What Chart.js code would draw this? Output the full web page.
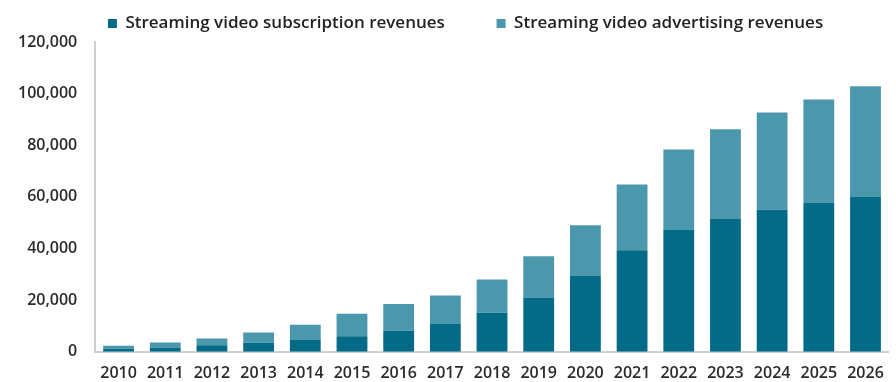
<!DOCTYPE html>
<html>
<head>
<meta charset="utf-8">
<script src="https://cdn.jsdelivr.net/npm/chart.js@4/dist/chart.umd.min.js"></script>
<style>
  html, body { margin: 0; padding: 0; background: #fff; }
  #wrap { width: 896px; height: 382px; position: relative; }
</style>
</head>
<body>
<div id="wrap"><canvas id="c"></canvas></div>
<script>
// years on the x axis
const years = ['2010','2011','2012','2013','2014','2015','2016','2017','2018',
  '2019','2020','2021','2022','2023','2024','2025','2026'];
// subscription revenues (bottom, dark)
const subscription = [1200,1700,2500,3500,4800,6000,8200,10800,15100,
  21000,29600,39300,47400,51400,55000,57800,60200];
// advertising revenues (stacked on top, light)
const advertising = [1100,1900,2700,4000,5700,8700,10300,11000,12900,
  16000,19400,25500,31000,34800,37700,39900,42700];
const yTicks = [0,20000,40000,60000,80000,100000,120000];

const FONT = '"Open Sans", "DejaVu Sans", sans-serif';

// spaces after the labels: gap between entries and shift of the whole legend
const baseLabels = Chart.defaults.plugins.legend.labels.generateLabels;

new Chart(document.getElementById('c').getContext('2d'), {
  type: 'bar',
  data: {
    labels: years,
    datasets: [
      {
        label: 'Streaming video subscription revenues',
        data: subscription,
        backgroundColor: '#036b87',
        borderWidth: 0,
        barPercentage: 0.66,
        categoryPercentage: 1
      },
      {
        label: 'Streaming video advertising revenues',
        data: advertising,
        backgroundColor: '#4b97ab',
        borderWidth: 0,
        barPercentage: 0.66,
        categoryPercentage: 1
      }
    ]
  },
  options: {
    responsive: true,
    maintainAspectRatio: false,
    animation: false,
    layout: { padding: { left: 0, right: 0, top: 3, bottom: -13 } },
    plugins: {
      tooltip: { enabled: false },
      legend: {
        position: 'top',
        fullSize: false,
        labels: {
          color: '#222',
          font: { family: FONT, size: 17, weight: '600' },
          boxWidth: 9,
          boxHeight: 9,
          padding: 12,
          generateLabels: chart => {
            const items = baseLabels(chart);
            items[0].text += '         ';
            items[1].text += '            ';
            return items;
          }
        }
      }
    },
    scales: {
      x: {
        stacked: true,
        grid: { display: false, drawTicks: false },
        border: { display: true, color: '#d0d0d0', width: 2 },
        ticks: {
          color: '#2b2b2b',
          font: { family: FONT, size: 16, weight: '600' },
          maxRotation: 0,
          autoSkip: false,
          padding: 12
        }
      },
      y: {
        stacked: true,
        min: 0,
        max: 120000,
        afterBuildTicks: axis => { axis.ticks = yTicks.map(v => ({ value: v })); },
        grid: { display: false, drawTicks: false },
        border: { display: true, color: '#d0d0d0', width: 2 },
        ticks: {
          color: '#2b2b2b',
          font: { family: FONT, size: 16, weight: '600' },
          padding: 18,
          callback: v => v.toLocaleString('en-US')
        }
      }
    }
  }
});
</script>
</body>
</html>
